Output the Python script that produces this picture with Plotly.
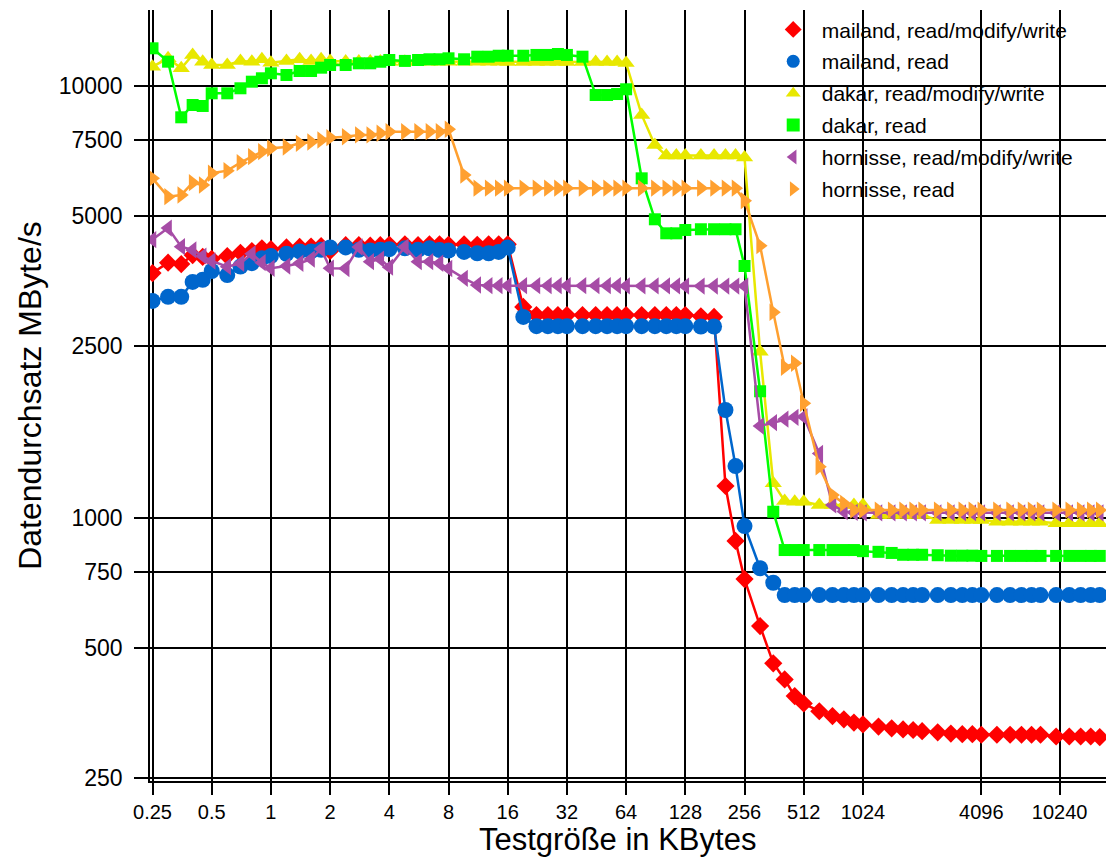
import plotly.graph_objects as go
import math

# Test sizes in KBytes (five steps per octave)
test_kb = [
    0.25, 0.3, 0.35, 0.4, 0.45,
    0.5, 0.6, 0.7, 0.8, 0.9,
    1, 1.2, 1.4, 1.6, 1.8,
    2, 2.4, 2.8, 3.2, 3.6,
    4, 4.8, 5.6, 6.4, 7.2,
    8, 9.6, 11.2, 12.8, 14.4,
    16, 19.2, 22.4, 25.6, 28.8,
    32, 38.4, 44.8, 51.2, 57.6,
    64, 76.8, 89.6, 102.4, 115.2,
    128, 153.6, 179.2, 204.8, 230.4,
    256, 307.2, 358.4, 409.6, 460.8,
    512, 614.4, 716.8, 819.2, 921.6,
    1024, 1228.8, 1433.6, 1638.4, 1843.2,
    2048, 2457.6, 2867.2, 3276.8, 3686.4,
    4096, 4915.2, 5734.4, 6553.6, 7372.8,
    8192, 9830.4, 11468.8, 13107.2, 14745.6,
    16384,
]

# Throughput in MByte/s
mailand_rmw = [
    3690, 3900, 3870, 4060, 4020,
    3980, 4040, 4110, 4150, 4210,
    4190, 4230, 4240, 4250, 4260,
    4150, 4280, 4280, 4270, 4280,
    4290, 4300, 4280, 4300, 4300,
    4290, 4300, 4290, 4300, 4300,
    4300, 3080, 2950, 2950, 2950,
    2950, 2950, 2950, 2950, 2950,
    2950, 2950, 2950, 2950, 2950,
    2950, 2930, 2920, 1186, 885,
    722, 562, 461, 423, 387,
    372, 357, 348, 342, 336,
    333, 329, 326, 324, 323,
    321, 319, 317, 316, 316,
    315, 315, 315, 315, 315,
    315, 312, 312, 312, 312,
    311,
]

mailand_read = [
    3180, 3250, 3250, 3520, 3560,
    3730, 3650, 3820, 3890, 3990,
    4040, 4090, 4140, 4140, 4175,
    4230, 4230, 4175, 4160, 4175,
    4190, 4210, 4175, 4210, 4170,
    4160, 4130, 4100, 4100, 4130,
    4230, 2920, 2780, 2780, 2780,
    2780, 2780, 2780, 2780, 2780,
    2780, 2780, 2780, 2780, 2780,
    2780, 2775, 2775, 1778, 1319,
    958, 765, 708, 663, 663,
    663, 663, 663, 663, 663,
    663, 663, 663, 663, 663,
    663, 663, 663, 663, 663,
    663, 663, 663, 663, 663,
    663, 663, 663, 663, 663,
    663,
]

dakar_rmw = [
    11085, 11590, 10990, 11800, 11384,
    11185, 11185, 11430, 11384, 11530,
    11320, 11430, 11530, 11430, 11530,
    11430, 11400, 11400, 11400, 11400,
    11380, 11380, 11380, 11380, 11380,
    11380, 11380, 11380, 11380, 11380,
    11370, 11370, 11370, 11370, 11370,
    11370, 11360, 11360, 11360, 11360,
    11300, 8570, 7300, 6900, 6900,
    6900, 6900, 6900, 6900, 6900,
    6830, 2427, 1203, 1095, 1090,
    1090, 1072, 1072, 1072, 1072,
    1072, 1016, 1016, 1016, 1016,
    1016, 989, 989, 989, 989,
    989, 980, 980, 980, 980,
    980, 972, 972, 972, 972,
    972,
]

dakar_read = [
    12225, 11384, 8463, 9036, 8990,
    9618, 9618, 9878, 10232, 10419,
    10700, 10604, 10832, 10832, 11025,
    11185, 11185, 11285, 11285, 11380,
    11485, 11430, 11485, 11530, 11530,
    11590, 11530, 11690, 11690, 11750,
    11750, 11750, 11800, 11800, 11860,
    11800, 11690, 9530, 9530, 9580,
    9826, 6113, 4914, 4560, 4560,
    4642, 4660, 4660, 4660, 4660,
    3831, 1965, 1034, 843, 843,
    843, 843, 843, 843, 843,
    838, 835, 830, 822, 822,
    822, 820, 818, 818, 818,
    817, 817, 817, 817, 817,
    817, 817, 817, 817, 817,
    817,
]

hornisse_rmw = [
    4410, 4690, 4246, 4174, 4040,
    3935, 3817, 3887, 4087, 3900,
    3785, 3830, 3887, 3975, 4195,
    3785, 3780, 4240, 3921, 3975,
    3808, 4240, 3921, 3921, 3887,
    3780, 3588, 3462, 3450, 3450,
    3450, 3450, 3450, 3450, 3450,
    3450, 3450, 3450, 3450, 3450,
    3445, 3445, 3445, 3445, 3445,
    3443, 3443, 3443, 3443, 3443,
    3443, 1633, 1663, 1693, 1710,
    1715, 1410, 1072, 1035, 1030,
    1028, 1028, 1028, 1028, 1028,
    1028, 1028, 1028, 1028, 1028,
    1028, 1028, 1028, 1028, 1028,
    1028, 1028, 1028, 1028, 1028,
    1028,
]

hornisse_read = [
    6113, 5544, 5594, 5973, 5899,
    6280, 6368, 6645, 6861, 7046,
    7176, 7225, 7368, 7420, 7499,
    7592, 7630, 7703, 7703, 7772,
    7838, 7838, 7838, 7838, 7838,
    7940, 6223, 5800, 5800, 5800,
    5800, 5800, 5800, 5800, 5800,
    5800, 5800, 5800, 5800, 5800,
    5800, 5800, 5800, 5800, 5800,
    5800, 5800, 5800, 5800, 5800,
    5427, 4269, 2994, 2233, 2281,
    1843, 1314, 1130, 1081, 1043,
    1043, 1043, 1043, 1043, 1043,
    1043, 1043, 1043, 1043, 1043,
    1043, 1043, 1043, 1043, 1043,
    1043, 1043, 1043, 1043, 1043,
    1043,
]

x_tick_vals = [0.25, 0.5, 1, 2, 4, 8, 16, 32, 64, 128, 256, 512, 1024, 4096, 10240]
x_tick_text = ["0.25", "0.5", "1", "2", "4", "8", "16", "32", "64", "128", "256",
               "512", "1024", "4096", "10240"]
y_tick_vals = [250, 500, 750, 1000, 2500, 5000, 7500, 10000]
y_tick_text = ["250", "500", "750", "1000", "2500", "5000", "7500", "10000"]

series = [
    ("mailand, read/modify/write", mailand_rmw, "#ff0000", "diamond", 14),
    ("mailand, read", mailand_read, "#0066cc", "circle", 16),
    ("dakar, read/modify/write", dakar_rmw, "#e8e800", "triangle-up", 15),
    ("dakar, read", dakar_read, "#00ff00", "square", 12),
    ("hornisse, read/modify/write", hornisse_rmw, "#a64ca6", "triangle-left", 15),
    ("hornisse, read", hornisse_read, "#ffa030", "triangle-right", 15),
]

FONT = "Liberation Sans, Arial, sans-serif"

fig = go.Figure()
for name, vals, color, symbol, size in series:
    fig.add_trace(go.Scatter(
        x=test_kb, y=vals, mode="lines+markers", name=name,
        line=dict(color=color, width=2.5),
        marker=dict(symbol=symbol, size=size, color=color, line=dict(width=0)),
        showlegend=False, legendgroup=name,
    ))
# legend entries show the marker symbol only
for name, vals, color, symbol, size in series:
    fig.add_trace(go.Scatter(
        x=[None], y=[None], mode="markers", name=name,
        marker=dict(symbol=symbol, size=13, color=color, line=dict(width=0)),
        showlegend=True, legendgroup=name,
    ))

fig.update_layout(
    width=1106, height=859,
    margin=dict(l=150, r=0, t=10, b=78),
    paper_bgcolor="white", plot_bgcolor="white",
    font=dict(family=FONT, color="black"),
    legend=dict(
        x=0.643, y=1.001, xanchor="left", yanchor="top",
        bgcolor="rgba(0,0,0,0)", font=dict(size=21, family=FONT),
        tracegroupgap=1.6, itemwidth=47,
    ),
    annotations=[dict(
        text="Testgröße in KBytes", xref="paper", yref="paper",
        x=0.4885, y=-0.0765, xanchor="center", yanchor="middle",
        showarrow=False, font=dict(size=31, family=FONT),
    )],
)

fig.update_xaxes(
    type="log",
    range=[math.log10(0.25) - 0.0127, math.log10(0.25) - 0.0127 + 4.861],
    tickvals=x_tick_vals, ticktext=x_tick_text,
    tickfont=dict(size=20),
    ticks="outside", ticklen=12, tickwidth=1.5, tickcolor="black",
    showgrid=True, gridcolor="black", gridwidth=1.5,
    showline=True, linecolor="black", linewidth=1.5,
    zeroline=False,
)
fig.update_yaxes(
    type="log",
    range=[2.3912, 4.1759],
    tickvals=y_tick_vals, ticktext=y_tick_text,
    tickfont=dict(size=23),
    ticklabelstandoff=7,
    ticks="outside", ticklen=14, tickwidth=1.5, tickcolor="black",
    showgrid=True, gridcolor="black", gridwidth=1.5,
    showline=True, linecolor="black", linewidth=1.5,
    zeroline=False,
    title=dict(text="Datendurchsatz MByte/s", font=dict(size=32), standoff=7),
)

fig.write_html("out.html")
